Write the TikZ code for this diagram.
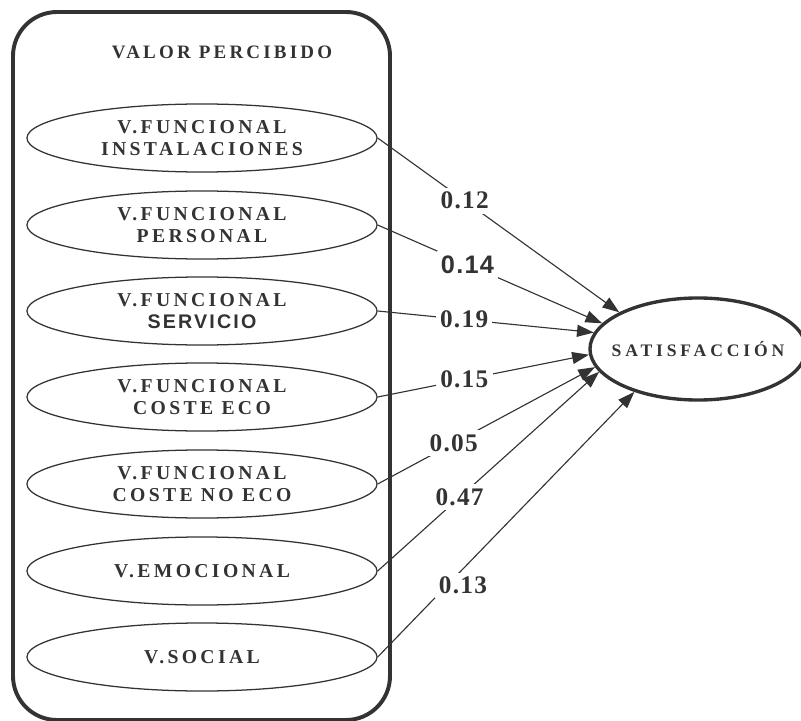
\documentclass[tikz,border=0pt]{standalone}
\usepackage{fontspec}
\setmainfont{Liberation Serif}
\newfontfamily\wideserif[LetterSpace=17]{Liberation Serif}
\newfontfamily\widesans[LetterSpace=11]{Liberation Sans}
\newfontfamily\numserif[LetterSpace=5]{Liberation Serif}
\newfontfamily\numsans[LetterSpace=5]{Liberation Sans}
\newfontfamily\satserif[LetterSpace=22]{Liberation Serif}
\usetikzlibrary{shapes.geometric,arrows.meta}
\definecolor{ink}{HTML}{333333}
\tikzset{
  fac/.style={ellipse, draw=ink, line width=0.9pt, minimum width=8.75cm,
    minimum height=1.7cm, inner sep=0pt, text=ink, align=center,
    font=\fontsize{14}{15.6}\selectfont\wideserif\bfseries},
  sat/.style={ellipse, draw=ink, line width=2.4pt, minimum width=5.4cm,
    minimum height=2.55cm, inner sep=0pt},
  satlbl/.style={text=ink, inner sep=0pt,
    font=\fontsize{12.5}{14}\selectfont\satserif\bfseries},
  arr/.style={draw=ink, line width=0.8pt,
    -{Triangle[length=0.42cm,width=0.3cm]}},
  coef/.style={fill=white, text=ink, inner sep=3pt,
    font=\fontsize{18}{20}\selectfont\numserif\bfseries},
}
\begin{document}
\begin{tikzpicture}[x=0.025cm,y=-0.025cm]
  \useasboundingbox (0,0) rectangle (801,721);
  \draw[draw=ink, line width=2.8pt, rounded corners=1.1cm] (13,12) rectangle (390,720);
  \node[text=ink, font=\fontsize{13.5}{15}\selectfont\wideserif\bfseries] (title) at (222,52) {VALOR PERCIBIDO};
  % factores
  \node[fac] (v1) at (202,138) {V.FUNCIONAL\\INSTALACIONES};
  \node[fac] (v2) at (202,225) {V.FUNCIONAL\\PERSONAL};
  \node[fac] (v3) at (202,311) {V.FUNCIONAL\\{\widesans\bfseries SERVICIO}};
  \node[fac] (v4) at (202,397) {V.FUNCIONAL\\COSTE ECO};
  \node[fac] (v5) at (202,484) {V.FUNCIONAL\\COSTE NO ECO};
  \node[fac] (v6) at (202,571) {V.EMOCIONAL};
  \node[fac] (v7) at (202,657) {V.SOCIAL};
  \node[sat, label={[satlbl]center:SATISFACCIÓN}] (s) at (698,349) {};
  % relaciones
  \begin{scope}
    \draw[arr] (v1.east) -- coordinate[pos=0.36] (c1) (s.155);
    \draw[arr] (v2.east) -- coordinate[pos=0.40] (c2) (s.165);
    \draw[arr] (v3.east) -- coordinate[pos=0.40] (c3) (s.171);
    \draw[arr] (v4.east) -- coordinate[pos=0.41] (c4) (s.183);
    \draw[arr] (v5.east) -- coordinate[pos=0.35] (c5) (s.190);
    \draw[arr] (v6.east) -- coordinate[pos=0.37] (c6) (s.193);
    \draw[arr] (v7.east) -- coordinate[pos=0.27] (c7) (s.214);
  \end{scope}
  \node[coef] (k1) at (c1) {0.12};
  \node[coef, font=\fontsize{18}{20}\selectfont\numsans\bfseries] (k2) at (c2) {0.14};
  \node[coef] (k3) at (c3) {0.19};
  \node[coef] (k4) at (c4) {0.15};
  \node[coef] (k5) at (c5) {0.05};
  \node[coef] (k6) at (c6) {0.47};
  \node[coef, xshift=0.4cm] (k7) at (c7) {0.13};
\end{tikzpicture}
\end{document}
